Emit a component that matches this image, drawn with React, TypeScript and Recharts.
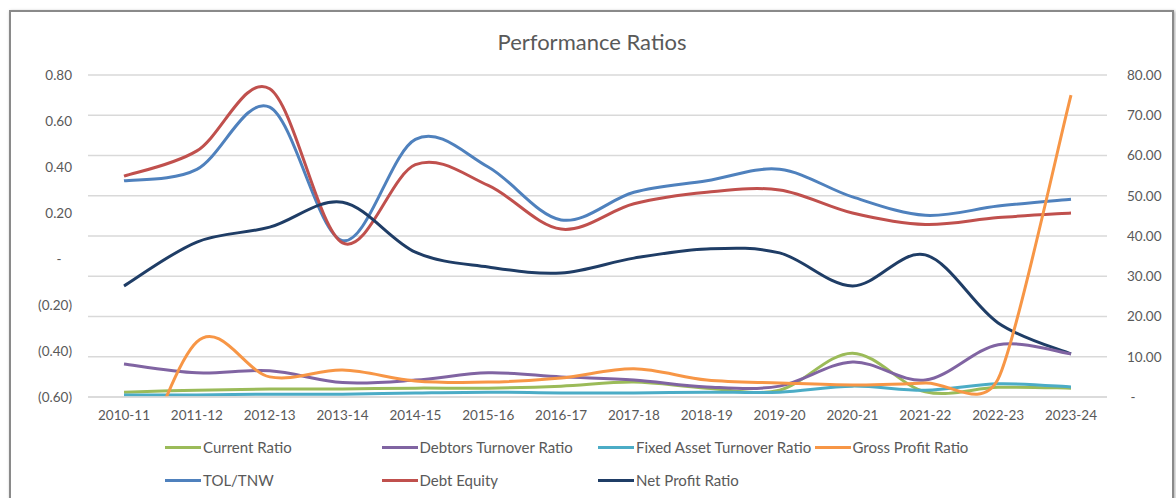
import { LineChart, Line, XAxis, YAxis, CartesianGrid } from 'recharts';

const years = [
    '2010-11', '2011-12', '2012-13', '2013-14', '2014-15', '2015-16', '2016-17',
    '2017-18', '2018-19', '2019-20', '2020-21', '2021-22', '2022-23', '2023-24',
];

// left axis
const tolTnw = [0.34, 0.39, 0.66, 0.08, 0.52, 0.40, 0.17, 0.29, 0.34, 0.39, 0.27, 0.19, 0.23, 0.26];
const debtEquity = [0.36, 0.47, 0.74, 0.07, 0.41, 0.32, 0.13, 0.24, 0.29, 0.30, 0.20, 0.15, 0.18, 0.20];

// right axis
const currentRatio = [1.2, 1.7, 2.0, 2.0, 2.2, 2.2, 2.7, 3.7, 2.2, 1.7, 10.9, 1.3, 2.4, 2.2];
const debtorsTurnover = [8.2, 6.0, 6.5, 3.6, 4.2, 6.0, 5.0, 4.2, 2.5, 2.7, 8.7, 4.2, 13.0, 10.7];
const fixedAssetTurnover = [0.5, 0.5, 0.7, 0.7, 1.0, 1.2, 1.0, 1.0, 1.2, 1.2, 2.7, 1.7, 3.3, 2.5];
const grossProfit = [-28, 13.7, 5.0, 6.7, 4.0, 3.7, 4.7, 7.0, 4.2, 3.5, 3.0, 3.5, 4.5, 75.0];
const netProfit = [27.6, 38.5, 42.2, 48.4, 36.0, 32.3, 30.8, 34.5, 36.8, 35.8, 27.6, 35.3, 18.4, 10.7];

const leftTicks = [-0.6, -0.4, -0.2, 0, 0.2, 0.4, 0.6, 0.8];
const rightTicks = [0, 10, 20, 30, 40, 50, 60, 70, 80];

const data = years.map((year, i) => ({
    year,
    tolTnw: tolTnw[i],
    debtEquity: debtEquity[i],
    currentRatio: currentRatio[i],
    debtorsTurnover: debtorsTurnover[i],
    fixedAssetTurnover: fixedAssetTurnover[i],
    grossProfit: grossProfit[i],
    netProfit: netProfit[i],
}));

// legend order as in the picture
const series = [
    { key: 'currentRatio', name: 'Current Ratio', color: '#9BBB59', axis: 'right' },
    { key: 'debtorsTurnover', name: 'Debtors Turnover Ratio', color: '#8064A2', axis: 'right' },
    { key: 'fixedAssetTurnover', name: 'Fixed Asset Turnover Ratio', color: '#4BACC6', axis: 'right' },
    { key: 'grossProfit', name: 'Gross Profit Ratio', color: '#F79646', axis: 'right' },
    { key: 'tolTnw', name: 'TOL/TNW', color: '#4F81BD', axis: 'left' },
    { key: 'debtEquity', name: 'Debt Equity', color: '#C0504D', axis: 'left' },
    { key: 'netProfit', name: 'Net Profit Ratio', color: '#1F3D66', axis: 'right' },
];
const drawOrder = [4, 5, 6, 0, 1, 2, 3];

// smoothed line like the spreadsheet one (bezier, 1/6 tangents, clamped on short segments)
const excelSmooth = (context: any) => {
    let pts: number[][] = [];
    const tangent = (i: number) => {
        const n = pts.length;
        const p0 = pts[Math.max(i - 1, 0)];
        const p1 = pts[i];
        const p2 = pts[Math.min(i + 1, n - 1)];
        const dx = p2[0] - p0[0];
        const dy = p2[1] - p0[1];
        const d02 = Math.hypot(dx, dy);
        if (!d02) return [0, 0];
        const d01 = Math.hypot(p1[0] - p0[0], p1[1] - p0[1]);
        const d12 = Math.hypot(p2[0] - p1[0], p2[1] - p1[1]);
        const shortest = i === 0 ? d12 : i === n - 1 ? d01 : Math.min(d01, d12);
        const f = Math.min(1 / 6, shortest / (2 * d02));
        return [dx * f, dy * f];
    };
    return {
        areaStart() {},
        areaEnd() {},
        lineStart() {
            pts = [];
        },
        point(x: number, y: number) {
            pts.push([+x, +y]);
        },
        lineEnd() {
            if (!pts.length) return;
            context.moveTo(pts[0][0], pts[0][1]);
            for (let i = 0; i < pts.length - 1; i++) {
                const a = tangent(i);
                const b = tangent(i + 1);
                context.bezierCurveTo(
                    pts[i][0] + a[0], pts[i][1] + a[1],
                    pts[i + 1][0] - b[0], pts[i + 1][1] - b[1],
                    pts[i + 1][0], pts[i + 1][1],
                );
            }
        },
    };
};

const fontFamily = 'Lato, "Open Sans", sans-serif';
const textColor = '#595959';

const formatLeft = (v: number) => {
    if (Math.abs(v) < 1e-9) return '-\u00A0\u00A0\u00A0';
    if (v < 0) return `(${Math.abs(v).toFixed(2)})`;
    return v.toFixed(2);
};
const formatRight = (v: number) => (v === 0 ? '\u00A0-' : v.toFixed(2));

const LeftTick = ({ y, payload }: any) => (
    <text x={72} y={y} dy="0.36em" textAnchor="end" fill={textColor} fontSize={13.5} fontFamily={fontFamily}>
        {formatLeft(payload.value)}
    </text>
);

const RightTick = ({ y, payload }: any) => (
    <text x={1127} y={y} dy="0.36em" textAnchor="start" fill={textColor} fontSize={13.5} fontFamily={fontFamily}>
        {formatRight(payload.value)}
    </text>
);

const App = () => {
    return (
        <div style={{ position: 'absolute', left: 0, top: 0, width: 1176, height: 498, background: '#fff', overflow: 'hidden', fontFamily }}>
            <div style={{ position: 'absolute', left: 9, top: 10, width: 1161, height: 520, border: '2px solid #8a8a8a', boxShadow: '1px 1px 3px rgba(0,0,0,0.35)' }} />
            <div style={{ position: 'absolute', left: 592, top: 28, transform: 'translateX(-50%)', fontSize: 22, color: textColor, whiteSpace: 'nowrap' }}>
                Performance Ratios
            </div>
            <div style={{ position: 'absolute', left: 0, top: 0 }}>
                <LineChart width={1176} height={498} data={data} margin={{ top: 75, right: 0, bottom: 71, left: 0 }}>
                    <CartesianGrid yAxisId="right" vertical={false} stroke="#d9d9d9" strokeWidth={1.3} />
                    <XAxis
                        dataKey="year"
                        scale="point"
                        padding={{ left: 36, right: 36 }}
                        height={30}
                        tickLine={false}
                        axisLine={{ stroke: '#d9d9d9', strokeWidth: 1.3 }}
                        tickMargin={7}
                        interval={0}
                        tick={{ fill: textColor, fontSize: 13.5, fontFamily }}
                    />
                    <YAxis
                        yAxisId="left"
                        orientation="left"
                        width={88}
                        domain={[-0.6, 0.8]}
                        ticks={leftTicks}
                        allowDataOverflow
                        tickLine={false}
                        axisLine={false}
                        tick={<LeftTick />}
                    />
                    <YAxis
                        yAxisId="right"
                        orientation="right"
                        width={69}
                        domain={[0, 80]}
                        ticks={rightTicks}
                        allowDataOverflow
                        tickLine={false}
                        axisLine={false}
                        tick={<RightTick />}
                    />
                    {drawOrder.map((idx) => {
                        const s = series[idx];
                        return (
                            <Line
                                key={s.key}
                                yAxisId={s.axis}
                                dataKey={s.key}
                                name={s.name}
                                type={excelSmooth as any}
                                stroke={s.color}
                                strokeWidth={3}
                                dot={false}
                                activeDot={false}
                                isAnimationActive={false}
                            />
                        );
                    })}
                </LineChart>
            </div>
            {series.map((s, i) => {
                const col = i < 4 ? i : i - 4;
                const row = i < 4 ? 0 : 1;
                return (
                    <div
                        key={s.key}
                        style={{
                            position: 'absolute',
                            left: 165 + col * 216.5,
                            top: 437 + row * 33,
                            height: 20,
                            display: 'flex',
                            alignItems: 'center',
                            whiteSpace: 'nowrap',
                            fontSize: 15,
                            color: textColor,
                        }}
                    >
                        <div style={{ width: 36, height: 3, background: s.color, marginRight: 2 }} />
                        <span>{s.name}</span>
                    </div>
                );
            })}
        </div>
    );
};

export default App;
